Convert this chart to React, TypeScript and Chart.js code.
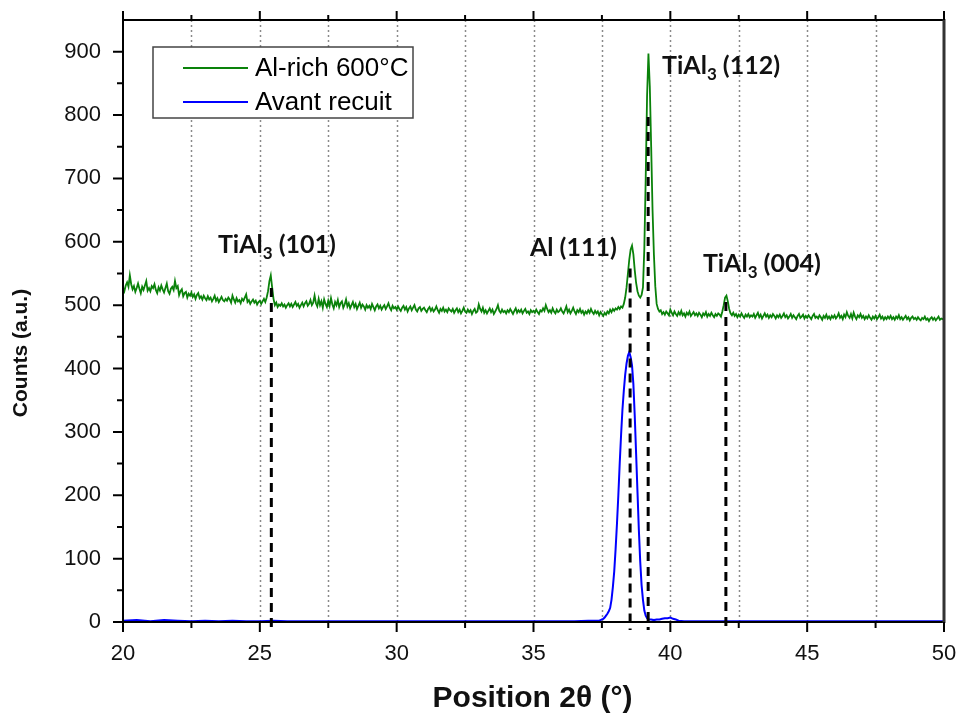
import React, { useEffect, useRef } from "react";
import { Chart, registerables } from "chart.js";

Chart.register(...registerables);

// ---------- data ----------
const X_MIN = 20;
const X_MAX = 50;
const Y_MIN = 0;
const Y_MAX = 950;

const seriesNames = ["Al-rich 600°C", "Avant recuit"];
const seriesColors = ["#0a820a", "#0000ff"];

// Al-rich 600°C : counts from 20.00° to 50.00° every 0.05°
const GREEN_START = 20;
const GREEN_STEP = 0.05;
const greenCounts = [
  528, 522, 531, 536, 529, 547, 533, 525, 530, 521, 527, 534, 526, 519, 529, 524, 531, 538, 523, 527,
  522, 530, 527, 533, 524, 519, 528, 523, 531, 525, 520, 527, 534, 522, 518, 526, 529, 524, 538, 527,
  530, 516, 522, 525, 514, 519, 521, 512, 518, 515, 520, 513, 517, 510, 516, 519, 511, 514, 509, 515,
  511, 508, 514, 509, 512, 506, 510, 515, 507, 511, 505, 509, 513, 508, 506, 510, 507, 512, 509, 504,
  515, 509, 504, 511, 506, 508, 503, 510, 507, 512, 517, 505, 508, 502, 506, 509, 504, 507, 501, 505,
  507, 502, 506, 510, 505, 512, 522, 538, 547, 528, 510, 500, 504, 497, 501, 499, 503, 498, 501, 496,
  500, 503, 498, 502, 497, 501, 505, 499, 502, 496, 500, 504, 498, 503, 506, 499, 502, 508, 500, 504,
  515, 503, 498, 510, 500, 506, 496, 509, 502, 497, 507, 499, 511, 501, 495, 505, 500, 508, 497, 503,
  506, 496, 501, 509, 498, 503, 495, 500, 505, 497, 502, 494, 499, 504, 496, 501, 498, 493, 500, 496,
  499, 494, 502, 497, 492, 498, 501, 495, 499, 493, 497, 500, 494, 498, 503, 496, 492, 499, 495, 497,
  493, 498, 494, 491, 496, 499, 493, 497, 490, 495, 498, 492, 496, 500, 493, 490, 495, 497, 491, 494,
  496, 492, 489, 494, 497, 491, 495, 490, 493, 498, 492, 488, 494, 491, 496, 490, 493, 489, 495, 492,
  490, 494, 488, 492, 495, 489, 493, 487, 491, 496, 490, 488, 493, 489, 492, 486, 491, 494, 488, 490,
  501, 494, 490, 496, 488, 492, 487, 491, 495, 489, 493, 486, 490, 494, 500, 491, 488, 493, 489, 491,
  487, 492, 489, 494, 490, 486, 491, 495, 488, 492, 489, 493, 487, 491, 494, 488, 490, 486, 492, 489,
  491, 488, 493, 489, 486, 492, 490, 495, 491, 500, 494, 489, 492, 488, 495, 490, 487, 493, 489, 491,
  495, 490, 487, 492, 498, 489, 493, 487, 491, 496, 490, 486, 492, 489, 494, 488, 491, 485, 490, 487,
  492, 488, 494, 489, 486, 491, 487, 490, 484, 489, 486, 483, 488, 485, 490, 487, 493, 489, 494, 491,
  495, 493, 497, 494, 498, 496, 502, 512, 528, 550, 572, 588, 594, 580, 555, 535, 522, 515, 512, 516,
  528, 590, 700, 830, 897, 845, 750, 650, 580, 530, 502, 494, 490, 492, 486, 489, 485, 490, 487, 484,
  493, 488, 484, 490, 486, 483, 489, 485, 491, 484, 487, 482, 488, 485, 490, 483, 486, 489, 484, 487,
  483, 488, 485, 481, 487, 484, 489, 482, 486, 483, 488, 484, 481, 486, 483, 487, 485, 482, 490, 500,
  512, 515, 506, 494, 487, 484, 488, 483, 486, 481, 485, 482, 487, 483, 480, 485, 482, 486, 481, 484,
  482, 486, 480, 484, 488, 481, 485, 479, 483, 487, 482, 485, 480, 484, 481, 486, 483, 479, 484, 481,
  485, 480, 483, 487, 481, 484, 479, 482, 486, 480, 484, 481, 478, 483, 486, 480, 482, 485, 479, 483,
  480, 484, 481, 478, 483, 486, 480, 482, 479, 484, 481, 477, 483, 480, 485, 479, 482, 478, 483, 480,
  484, 479, 482, 487, 480, 483, 478, 485, 481, 489, 483, 480, 486, 479, 488, 482, 478, 484, 481, 486,
  480, 483, 478, 482, 479, 484, 480, 477, 482, 479, 483, 478, 481, 485, 479, 482, 477, 481, 478, 482,
  479, 483, 478, 481, 477, 482, 479, 484, 478, 481, 477, 480, 483, 478, 481, 476, 480, 482, 478, 480,
  477, 481, 478, 476, 480, 478, 482, 477, 479, 475, 479, 481, 477, 480, 476, 479, 482, 477, 479, 478,
  480,
];

// Avant recuit
const blueAngles = [
  20, 20.5, 21, 21.5, 22, 22.5, 23, 23.5, 24, 24.5, 25, 25.5, 26, 27, 28, 29, 30, 31, 32, 33, 34, 35, 36, 36.5, 37,
  37.4, 37.45, 37.5, 37.55, 37.6, 37.65, 37.7, 37.75, 37.8, 37.85, 37.9, 37.95,
  38, 38.05, 38.1, 38.15, 38.2, 38.25, 38.3, 38.35, 38.4, 38.45, 38.5, 38.55, 38.6, 38.65, 38.7, 38.75, 38.8, 38.85, 38.9, 38.95,
  39, 39.05, 39.1, 39.15, 39.2, 39.3, 39.4, 39.5, 39.6, 39.7, 39.8, 39.9,
  40, 40.1, 40.2, 40.3, 40.5, 41, 42, 43, 44, 45, 46, 47, 48, 49, 50,
];
const blueCounts = [
  2, 3, 1, 3, 2, 1, 2, 1, 2, 1, 1, 2, 1, 1, 1, 1, 1, 1, 1, 1, 1, 1, 1, 1, 2,
  2, 3, 4, 5, 7, 10, 13, 17, 22, 35, 55, 80,
  115, 155, 200, 250, 295, 335, 365, 390, 408, 420, 426, 418, 405, 375, 325, 265, 205, 145, 95, 58,
  35, 18, 10, 6, 4, 4, 3, 4, 4, 5, 6, 6,
  7, 5, 4, 2, 1, 1, 1, 1, 1, 1, 1, 1, 1, 1, 1,
];

const xTickValues = [20, 25, 30, 35, 40, 45, 50];
const xMinorTicks = [22.5, 27.5, 32.5, 37.5, 42.5, 47.5];
const xGridValues = [22.5, 25, 27.5, 30, 32.5, 35, 37.5, 40, 42.5, 45, 47.5];
const yTickValues = [0, 100, 200, 300, 400, 500, 600, 700, 800, 900];
const yMinorTicks = [50, 150, 250, 350, 450, 550, 650, 750, 850];

// peak markers
const peakNames = ["TiAl", "Al", "TiAl", "TiAl"];
const peakSubs = ["3", "", "3", "3"];
const peakHkl = [" (101)", " (111)", " (112)", " (004)"];
const peakAngles = [25.42, 38.53, 39.19, 42.03];
const peakLineTops = [527, 558, 797, 505];
// label anchors (left, baseline) in data units
const labelAngles = [23.47, 34.87, 39.7, 41.19];
const labelCounts = [583, 577, 865, 552];

const AXIS_TITLE_X = "Position 2θ (°)";
const AXIS_TITLE_Y = "Counts (a.u.)";

const SANS = '"Liberation Sans", Arial, sans-serif';
const LABEL_FONT = 'Lato, "Open Sans", sans-serif';

const greenData = greenCounts.map((v, i) => ({
  x: Math.round((GREEN_START + i * GREEN_STEP) * 100) / 100,
  y: v,
}));
const blueData = blueAngles.map((a, i) => ({ x: a, y: blueCounts[i] }));

const decorPlugin = {
  id: "decor",
  beforeDatasetsDraw(chart: any) {
    const { ctx, chartArea, scales } = chart;
    const x = scales.x;
    ctx.save();
    ctx.strokeStyle = "#8a8a8a";
    ctx.lineWidth = 1.5;
    ctx.setLineDash([2, 3]);
    xGridValues.forEach((v) => {
      const px = Math.round(x.getPixelForValue(v)) + 0.5;
      ctx.beginPath();
      ctx.moveTo(px, chartArea.top);
      ctx.lineTo(px, chartArea.bottom);
      ctx.stroke();
    });
    ctx.restore();
  },
  afterDatasetsDraw(chart: any) {
    const { ctx, chartArea, scales } = chart;
    const x = scales.x;
    const y = scales.y;
    const { left, right, top, bottom } = chartArea;

    // dashed peak markers
    ctx.save();
    ctx.strokeStyle = "#000";
    ctx.lineWidth = 3;
    ctx.setLineDash([9, 6]);
    peakAngles.forEach((a, i) => {
      const px = x.getPixelForValue(a);
      ctx.beginPath();
      ctx.moveTo(px, y.getPixelForValue(peakLineTops[i]));
      ctx.lineTo(px, bottom + 8);
      ctx.stroke();
    });
    ctx.restore();

    // frame
    ctx.save();
    ctx.strokeStyle = "#000";
    ctx.lineWidth = 2;
    ctx.beginPath();
    ctx.moveTo(left, top);
    ctx.lineTo(right, top);
    ctx.moveTo(left, top - 1);
    ctx.lineTo(left, bottom + 1);
    ctx.moveTo(left, bottom);
    ctx.lineTo(right, bottom);
    ctx.stroke();
    ctx.strokeStyle = "#333";
    ctx.lineWidth = 3;
    ctx.beginPath();
    ctx.moveTo(right, top - 1);
    ctx.lineTo(right, bottom + 1);
    ctx.stroke();

    // ticks
    ctx.strokeStyle = "#000";
    ctx.lineWidth = 2;
    ctx.beginPath();
    xTickValues.forEach((v) => {
      const px = x.getPixelForValue(v);
      ctx.moveTo(px, bottom);
      ctx.lineTo(px, bottom + 10);
      ctx.moveTo(px, top);
      ctx.lineTo(px, top - 9);
    });
    xMinorTicks.forEach((v) => {
      const px = x.getPixelForValue(v);
      ctx.moveTo(px, bottom);
      ctx.lineTo(px, bottom + 6);
      ctx.moveTo(px, top);
      ctx.lineTo(px, top - 5);
    });
    yTickValues.forEach((v) => {
      const py = y.getPixelForValue(v);
      ctx.moveTo(left, py);
      ctx.lineTo(left - 10, py);
    });
    yMinorTicks.forEach((v) => {
      const py = y.getPixelForValue(v);
      ctx.moveTo(left, py);
      ctx.lineTo(left - 6, py);
    });
    ctx.stroke();
    ctx.restore();

    // legend
    ctx.save();
    const lx = left + 30;
    const ly = top + 27;
    const lw = 260;
    const lh = 71;
    ctx.fillStyle = "#fff";
    ctx.fillRect(lx, ly, lw, lh);
    ctx.strokeStyle = "#444";
    ctx.lineWidth = 1.5;
    ctx.strokeRect(lx, ly, lw, lh);
    seriesNames.forEach((name, i) => {
      const cy = ly + 21 + i * 34;
      ctx.strokeStyle = seriesColors[i];
      ctx.lineWidth = 2;
      ctx.beginPath();
      ctx.moveTo(lx + 30, cy);
      ctx.lineTo(lx + 95, cy);
      ctx.stroke();
      ctx.fillStyle = "#000";
      ctx.font = `26px ${SANS}`;
      ctx.textAlign = "left";
      ctx.textBaseline = "middle";
      ctx.fillText(name, lx + 102, cy + 1);
    });
    ctx.restore();

    // peak labels
    ctx.save();
    ctx.fillStyle = "#111";
    ctx.textAlign = "left";
    ctx.textBaseline = "alphabetic";
    peakNames.forEach((name, i) => {
      let px = x.getPixelForValue(labelAngles[i]);
      const py = y.getPixelForValue(labelCounts[i]);
      ctx.font = `bold 25px ${LABEL_FONT}`;
      ctx.fillText(name, px, py);
      px += ctx.measureText(name).width;
      if (peakSubs[i]) {
        ctx.font = `bold 17px ${LABEL_FONT}`;
        ctx.fillText(peakSubs[i], px, py + 6);
        px += ctx.measureText(peakSubs[i]).width;
      }
      ctx.font = `bold 25px ${LABEL_FONT}`;
      ctx.fillText(peakHkl[i], px, py);
    });
    ctx.restore();

    // axis titles
    ctx.save();
    ctx.fillStyle = "#111";
    ctx.textAlign = "center";
    ctx.textBaseline = "middle";
    ctx.font = `bold 30px ${SANS}`;
    ctx.fillText(AXIS_TITLE_X, (left + right) / 2 - 1, 699);
    ctx.translate(21, 353);
    ctx.rotate(-Math.PI / 2);
    ctx.font = `bold 21px ${SANS}`;
    ctx.fillText(AXIS_TITLE_Y, 0, 0);
    ctx.restore();
  },
};

const zeroPadding = (s: any) => {
  s.paddingTop = 0;
  s.paddingBottom = 0;
  s.paddingLeft = 0;
  s.paddingRight = 0;
};

export default function App() {
  const canvasRef = useRef<HTMLCanvasElement | null>(null);

  useEffect(() => {
    document.body.style.margin = "0";
    const canvas = canvasRef.current;
    if (!canvas) return;
    const chart = new Chart(canvas, {
      type: "line",
      data: {
        datasets: [
          {
            label: seriesNames[0],
            data: greenData,
            borderColor: seriesColors[0],
            borderWidth: 1.8,
            pointRadius: 0,
            tension: 0,
            fill: false,
          },
          {
            label: seriesNames[1],
            data: blueData,
            borderColor: seriesColors[1],
            borderWidth: 2,
            pointRadius: 0,
            tension: 0,
            fill: false,
          },
        ],
      },
      options: {
        animation: false,
        responsive: false,
        devicePixelRatio: 1,
        layout: { padding: { top: 20, right: 17, left: 0, bottom: 0 } },
        plugins: {
          legend: { display: false },
          tooltip: { enabled: false },
        },
        scales: {
          x: {
            type: "linear",
            min: X_MIN,
            max: X_MAX,
            grid: { display: false, drawTicks: false },
            border: { display: false },
            ticks: {
              stepSize: 5,
              padding: 19,
              color: "#111",
              maxRotation: 0,
              autoSkip: false,
              font: { family: SANS, size: 22 },
            },
            afterBuildTicks: (s: any) => {
              s.ticks = xTickValues.map((v) => ({ value: v }));
            },
            afterFit: (s: any) => {
              s.height = 100;
              zeroPadding(s);
            },
          },
          y: {
            type: "linear",
            min: Y_MIN,
            max: Y_MAX,
            grid: { display: false, drawTicks: false },
            border: { display: false },
            ticks: {
              stepSize: 100,
              padding: 22,
              color: "#111",
              font: { family: SANS, size: 22 },
            },
            afterBuildTicks: (s: any) => {
              s.ticks = yTickValues.map((v) => ({ value: v }));
            },
            afterFit: (s: any) => {
              s.width = 123;
              zeroPadding(s);
            },
          },
        },
      },
      plugins: [decorPlugin],
    } as any);
    return () => chart.destroy();
  }, []);

  return (
    <div style={{ width: 961, height: 722, background: "#fff" }}>
      <canvas ref={canvasRef} width={961} height={722} />
    </div>
  );
}
